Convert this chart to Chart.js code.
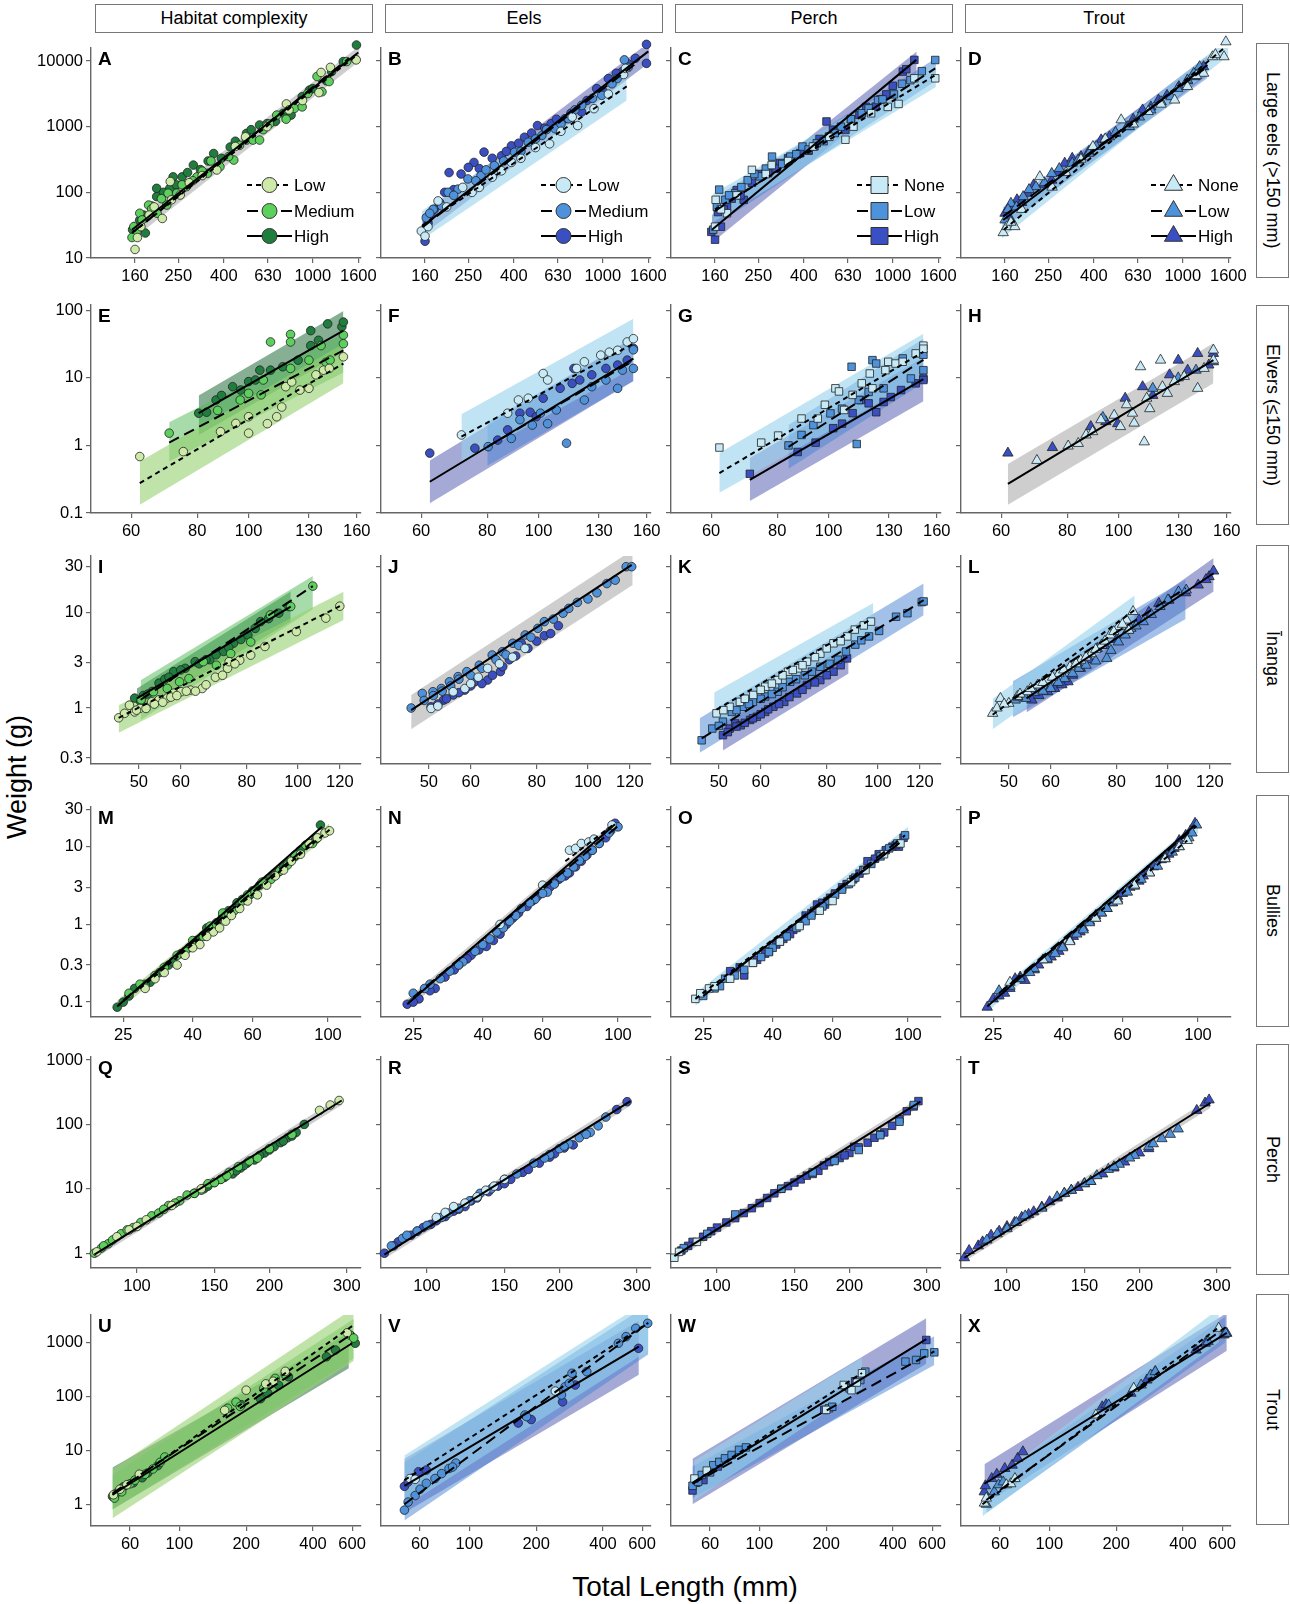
<!DOCTYPE html>
<html>
<head>
<meta charset="utf-8">
<script src="https://cdn.jsdelivr.net/npm/chart.js@4.4.1/dist/chart.umd.min.js"></script>
<style>
  body { margin: 0; background: #fff; width: 1290px; height: 1604px; position: relative; overflow: hidden;
         font-family: "Liberation Sans", Arial, sans-serif; color: #000; }
  .hdr { position: absolute; top: 4px; height: 29px; width: 278px; border: 1px solid #777; box-sizing: border-box;
         font-size: 18px; text-align: center; line-height: 27px; }
  .strip { position: absolute; left: 1256px; width: 33px; border: 1px solid #777; box-sizing: border-box;
           writing-mode: vertical-rl; text-align: center; font-size: 18px; line-height: 31px; }
  canvas { position: absolute; }
  #ylab { position: absolute; left: 0; top: 677px; width: 34px; height: 200px; writing-mode: vertical-rl;
          transform: rotate(180deg); text-align: center; font-size: 27px; line-height: 34px; }
  #xlab { position: absolute; left: 485px; top: 1570px; width: 400px; text-align: center; font-size: 28px; line-height: 34px; }
</style>
</head>
<body>
<div id="ylab">Weight (g)</div>
<div id="xlab">Total Length (mm)</div>
<script>
// ---- labels ----
const colTitles = ["Habitat complexity", "Eels", "Perch", "Trout"];
const rowTitles = ["Large eels (>150 mm)", "Elvers (\u2264150 mm)", "\u012Ananga", "Bullies", "Perch", "Trout"];
const groupNames = [["Low", "Medium", "High"], ["Low", "Medium", "High"], ["None", "Low", "High"], ["None", "Low", "High"]];

// ---- axes per row ----
const xTicks = [[160, 250, 400, 630, 1000, 1600], [60, 80, 100, 130, 160], [50, 60, 80, 100, 120], [25, 40, 60, 100], [100, 150, 200, 300], [60, 100, 200, 400, 600]];
const yTicks = [[10, 100, 1000, 10000], [0.1, 1, 10, 100], [0.3, 1, 3, 10, 30], [0.1, 0.3, 1, 3, 10, 30], [1, 10, 100, 1000], [1, 10, 100, 1000]];
const xRange = [[101.6, 1645], [50.4, 163], [40.6, 131.6], [20.1, 125], [78.6, 323], [40, 658]];
const yRange = [[10, 15770], [0.1, 119.8], [0.26, 38.8], [0.0643, 32.4], [0.589, 1113], [0.396, 3206]];

// ---- points: [low/none, medium/low, high], each [length mm, weight g] ----
const ptsA = [
  [[160,13.5],[164,20.5],[212,40],[230,146],[233,77],[255,91],[372,219],[624,1000],[762,2220],[783,1800],[1066,3300],[1090,6700],[1566,10400],
   [170,30],[185,45],[195,60],[280,140],[320,180],[450,500],[500,700],[900,2500],[1200,8000]],
  [[155,20.5],[163,26],[168,48],[184,64],[201,48],[222,64],[225,97],[246,97],[272,122],[303,172],[338,195],[384,245],[443,310],[505,625],[540,625],[578,625],[690,1500],[828,1900],[897,2000],[1045,5800],[1184,4860],[1420,9800],[1555,10600],
   [158,30],[172,38],[190,56],[210,80],[260,130],[290,150],[320,210],[350,300],[420,350],[470,520],[600,900],[640,1100],[760,1300],[950,3200],[1100,3400]],
  [[156,27],[168,38],[178,24],[200,115],[200,86],[229,115],[237,172],[260,172],[292,260],[314,222],[360,390],[427,490],[505,790],[578,1060],[624,1110],[738,1600],[897,2860],[967,3600],[1216,6900],[1370,9800],[1570,17500],
   [162,22],[175,45],[190,62],[215,100],[245,130],[275,200],[340,300],[390,330],[450,600],[530,900],[680,1200],[800,1500],[1000,3800],[1150,5000]]
];
const ptsB = [
  [[154,25.7],[160,21.5],[183,74],[236,119],[280,119],[352,213],[390,286],[578,548],[730,1400],[772,1040],[914,1880],[1060,3130],[1240,6230],[1265,7720],
   [165,30],[200,60],[260,100],[320,170],[430,330],[500,480],[650,850]],
  [[162,41],[174,55],[186,70],[203,100],[225,112],[249,160],[285,180],[327,255],[403,408],[464,580],[534,735],[612,930],[703,1320],[805,2110],[990,3000],[1160,5400],[1250,10400],
   [168,48],[190,62],[215,90],[270,150],[300,220],[360,300],[430,420],[500,650],[560,900],[650,1100],[750,1800],[900,2700],[1100,4500],[1300,8000]],
  [[160,18],[165,34],[176,55],[196,100],[205,200],[232,190],[265,285],[294,410],[352,360],[390,510],[446,690],[510,1040],[587,1110],[677,1320],[805,1670],[940,3800],[1060,5400],[1220,6860],[1400,11000],[1570,17900],[1570,9200],
   [170,45],[185,70],[215,110],[250,240],[280,230],[320,330],[370,420],[420,560],[480,800],[550,950],[620,1300],[720,1600],[850,2500],[1000,3500],[1150,6500],[1300,9000]]
];
const ptsC = [
  [[160,30],[161,77],[181,48],[234,220],[287,260],[439,498],[614,632],[667,1000],[1062,2220],[1250,5450],[1550,5450],
   [170,55],[200,90],[270,190],[340,300],[520,700],[800,1600],[950,2000]],
  [[157,27],[167,110],[178,77],[197,97],[224,153],[254,175],[288,350],[348,350],[394,498],[457,560],[518,704],[586,1000],[727,1600],[859,2540],[1013,3100],[1200,5100],[1550,10350],
   [163,60],[185,90],[210,120],[240,190],[270,230],[320,270],[370,380],[420,450],[490,600],[550,800],[650,1300],[780,1900],[900,2600],[1100,4500],[1350,7000]],
  [[154,25],[160,19],[170,30],[181,60],[200,108],[215,77],[234,140],[276,195],[313,280],[385,395],[446,500],[505,1200],[614,890],[709,1510],[838,2020],[936,3100],[1110,6890],[1250,10400],
   [165,50],[175,55],[190,80],[208,90],[250,190],[300,230],[340,330],[420,430],[470,650],[540,900],[650,1300],[760,2000],[880,2600],[1000,4200],[1150,7500]]
];
const ptsD = [
  [[157,24.3],[163,30],[177,30],[229,173],[396,499],[530,1270],[920,2540],[1050,4080],[1240,6500],[1360,11600],[1530,11600],[1560,19600],
   [170,35],[190,55],[260,120],[300,200],[350,320],[450,650],[600,1100],[700,1700],[800,2200],[1150,6000],[1400,12500]],
  [[160,38],[170,68],[193,86],[220,122],[259,194],[320,278],[380,392],[450,630],[577,1000],[719,1800],[886,2860],[1050,5140],[1190,8200],
   [165,55],[180,60],[205,110],[240,140],[280,230],[340,310],[410,500],[500,820],[640,1400],[800,2400],[950,3800],[1120,6500]],
  [[160,48],[170,38],[181,77],[202,97],[259,153],[296,278],[350,350],[431,630],[500,790],[564,1000],[661,1800],[779,2540],[961,4070],[1134,5770],[1240,8200],
   [165,42],[175,60],[190,70],[215,130],[240,130],[275,200],[320,330],[380,420],[470,700],[600,1300],[720,2000],[850,3000],[1050,5000],[1180,7200]]
];
const ptsE = [
  [[62.3,0.685],[75.3,0.81],[88.5,1.6],[94.6,2.12],[100,1.52],[100,2.66],[108.5,2.1],[113,2.66],[115.5,3.7],[117.5,7.4],[120.6,8.7],[125,6.6],[130,7],[134,11.1],[138.5,13],[142,13.8],[151,20.5]],
  [[70.8,1.52],[87.4,3.3],[96.4,4.7],[100,5.9],[105.6,5.6],[106.6,9.3],[110,34],[120,44],[120,34],[120,13.8],[130,18.3],[137,30],[140,17],[142.5,18.3],[151,43],[151,32]],
  [[80.5,3.0],[83.3,3.1],[86.8,4.7],[88.9,5.5],[93.3,7.4],[96.6,6.6],[100,8.8],[103,9.3],[105,13],[110,13],[116,14.6],[124,18.3],[131,30],[131,50],[135.5,36],[141,63],[150,57],[151,67]]
];
const ptsF = [
  [[71.5,1.43],[87.4,3.0],[91.6,4.7],[95.6,5],[102,11.6],[104,9.3],[118,13.8],[122,17.3],[131,21.7],[136,24],[141,25.6],[147,34],[151,38]],
  [[80.3,0.96],[88.8,1.27],[92.2,2.4],[97.3,2],[100.8,3],[104,2.1],[108,3.35],[112.9,1.08],[122,4.7],[126,7.4],[134,9.3],[141,7],[144,13],[151,13.8],[151,26]],
  [[62.3,0.77],[75.8,0.91],[83.7,1.2],[87.4,1.7],[92.2,3.0],[96.4,3.1],[99,2.66],[102,5],[109.8,7],[115.7,8.3],[116.6,13.8],[119.6,9.3],[126,11.1],[134,13.8],[141,15.5],[147,18.3],[151,27.4]]
];
const ptsG = [
  [[62.2,0.93],[74.6,1.1],[80.3,1.4],[88.9,2.5],[95.4,2.5],[98.4,4],[103,7],[104.6,6.3],[107,3.35],[111,5.6],[115.5,8.3],[119.6,11.6],[121,7],[128,13],[129.6,17.3],[133.8,16.3],[138,17.3],[146,23],[151,30],[151,27]],
  [[84,1.0],[88.9,1.43],[93.6,2],[100.8,2.98],[106,3.5],[110.5,14.6],[114,4.7],[113,1.05],[119,6.2],[121,18.3],[123,16.3],[127,7],[138,19.4],[143,9.8],[151,13],[151,22]],
  [[71,0.38],[87.4,0.8],[94.5,1.1],[102,1.8],[106,2.1],[111,3],[115,4.7],[119,4.2],[123,3.1],[127,4.4],[131,5.2],[137,6.6],[146,8.3],[151,9.8],[151,9.3]]
];
const ptsH = [
  [[70.1,0.6],[80.3,0.98],[83.9,1.07],[86.8,1.43],[89.3,1.6],[92.6,2.4],[98.1,2.8],[100.8,1.9],[103.5,4],[106.2,3.0],[107,2.14],[110,14.6],[111.8,1.13],[113,5],[114.5,3.5],[120,18.3],[121,7.4],[123.6,5.9],[127.4,8.8],[133,10.5],[141,7],[145,13.8],[151,18.3],[151,25.8]],
  [[93.4,2.6],[116,7],[129.6,10],[140,13]],
  [[61.8,0.77],[75,0.93],[88.6,1.9],[94.6,2.25],[99.6,2.1],[102.9,5],[111,7.4],[116,5.5],[124.8,11.1],[129.6,18.3],[135,13],[141,23],[148,15.5],[151,17.3],[151,23]]
];
const ptsI = [
  [[45.8,0.79],[48,1.07],[49.1,0.91],[50.2,0.99],[51.6,0.99],[52.9,1.16],[54.6,1.22],[56.6,1.27],[58.2,1.43],[60.1,1.48],[62.6,1.54],[65.9,1.6],[69.8,2.1],[73.6,2.6],[74.1,3.05],[77.6,3.16],[81.4,3.57],[86.6,4.4],[99.3,6.3],[112.9,8.7],[120,11.6],
   [47,0.88],[49.5,0.95],[53.5,1.1],[55.5,1.15],[57.5,1.3],[59,1.35],[61.5,1.5],[64,1.5],[67,1.75],[72,2.2],[76,2.9]],
  [[50.5,1.22],[53.3,1.48],[56.6,1.6],[59.7,1.88],[62.2,2.03],[66.2,3.05],[70.1,2.8],[74.6,3.7],[81.4,4.9],[88.7,9.4],[96.9,11.5],[106.7,18.8]],
  [[49.1,1.27],[50.4,1.17],[53,1.49],[54.6,1.82],[58.2,2.4],[61.2,2.6],[63.9,3.05],[68.1,3.2],[72.3,3.9],[75.5,4.75],[80.4,5.8],[85,8.0],[96.1,11.5],
   [51,1.35],[52,1.4],[56,2.0],[57,2.1],[60,2.5],[65,2.9],[67,3.2],[70,3.6],[74,4.3],[78,5.2],[83,6.8],[88,8.6],[92,9.8]]
];
const ptsJ = [
  [[50.5,0.99],[55.6,1.48],[58.5,1.6],[64.6,2.6],[72,3.4],[52,1.05],[60,1.8],[62,2.1],[68,2.9],[76,4.2]],
  [[46.3,1.0],[48.6,1.42],[50.9,1.48],[52.8,1.6],[54.7,1.88],[56.8,2.13],[59,2.4],[62.3,2.8],[65.9,3.58],[68.9,3.88],[72.1,4.75],[76.1,5.8],[80.4,6.8],[82.7,8],[89.7,9.8],[95.5,12.7],[100,13.8],[108.6,20],[112.6,21.7],[118.1,30],[121,30],
   [49,1.2],[51,1.35],[53,1.5],[55,1.7],[57,2],[60,2.2],[63,2.6],[67,3.2],[70,3.6],[74,4.5],[78,5.5],[86,8.5],[92,11],[104,16]],
  [[50.5,1.03],[53.3,1.21],[55.6,1.37],[58.5,1.54],[61,1.88],[64.6,1.96],[68.3,2.4],[71,3.2],[74.8,4.75],[82.7,5.7],[87.9,7.25],
   [52,1.1],[54,1.25],[57,1.45],[60,1.7],[63,1.8],[66,2.2],[69,2.7],[73,3.5],[77,4.2],[80,5.0],[85,6.0]]
];
const ptsK = [
  [[49.5,0.88],[52.4,1.03],[54.8,1.16],[58.1,1.37],[61.2,1.67],[64.6,1.96],[67.6,2.4],[70.6,2.6],[73.4,3.05],[77.8,3.7],[82.4,4.75],[87.5,5.6],[90.4,6.6],[97,8],
   [51,0.95],[56,1.25],[60,1.55],[63,1.8],[66,2.2],[69,2.5],[72,2.8],[76,3.4],[80,4.2],[85,5],[94,7.3]],
  [[46.4,0.46],[48.6,0.61],[50.9,0.72],[52.9,0.91],[55.5,1.03],[58,1.16],[61.2,1.32],[64.6,1.48],[68.2,1.88],[72.7,2.2],[77.8,2.7],[84,3.2],[90.6,4.6],[96.2,5.6],[100.5,6.4],[108.2,9],[113.7,9.8],[121,12.8],[122,13],
   [50,0.65],[54,0.95],[57,1.1],[60,1.25],[63,1.4],[66,1.65],[70,2.0],[75,2.4],[81,2.9],[87,3.9],[93,5.1]],
  [[50.9,0.52],[52.4,0.61],[53.7,0.69],[55,0.66],[57.3,0.75],[59,0.81],[61.2,0.91],[63.4,1.03],[66.5,1.16],[70.3,1.42],[73.4,1.74],[77.8,1.96],[82.4,2.4],[87.4,3.3],
   [52,0.56],[54,0.64],[56,0.7],[58,0.78],[60,0.86],[62,0.97],[65,1.1],[68,1.3],[72,1.55],[76,1.85],[80,2.2],[85,2.8]]
];
const ptsL = [
  [[46.6,0.88],[48.2,1.26],[50,1.12],[51.9,1.32],[54.2,1.48],[56.7,1.74],[59.2,1.96],[62.2,2.3],[65.3,2.7],[68.4,3.16],[71.6,3.7],[74.9,4.55],[77.7,5.8],[80.6,7.1],[83.5,8.3],[85.9,10.2],[84.3,6.5],
   [47.5,1.0],[49,1.1],[52.5,1.4],[55,1.6],[58,1.85],[60.5,2.1],[63.5,2.5],[67,2.9],[70,3.4],[73,4.1],[76,5],[79,6.3],[82,7.5]],
  [[51.4,1.21],[53.8,1.26],[60,1.6],[63.7,2.03],[67.8,2.6],[76.6,3.3],[80.6,4.9],[85.1,6.8],[89.8,7.98],[96.6,11.5],[104.7,16.4],[108.3,17.1],
   [52,1.3],[56,1.45],[58,1.5],[62,1.85],[66,2.3],[70,2.8],[73,3.1],[78,4],[83,5.8],[87,7.2],[93,9.5],[100,13.5]],
  [[55.3,1.21],[59.2,1.48],[64.7,1.88],[68.3,2.6],[73.5,4.2],[88.2,8.3],[96.1,12.4],[100.4,13.4],[114.1,19.3],[119.6,23.6],[122,27],
   [57,1.35],[61,1.6],[63,1.75],[66,2.2],[71,3.2],[76,4.5],[80,5.2],[84,6.5],[92,10],[108,16],[118,22]]
];
const ptsM = [
  [[29,0.15],[33,0.24],[38,0.4],[42,0.55],[46,0.8],[50,1.1],[55,1.6],[62,2.4],[70,4.2],[78,6.5],[88,11],[98,15],[101,16],
   [31,0.2],[36,0.3],[40,0.5],[44,0.7],[48,0.9],[52,1.3],[58,2],[66,3.2],[74,5],[83,8],[93,13]],
  [[26,0.13],[31,0.22],[36,0.4],[40,0.62],[45,0.95],[49,1.4],[53,1.5],[58,2.4],[64,3.5],[72,4.8],[80,7.8],[86,10.5],
   [28,0.17],[33,0.28],[38,0.45],[43,0.7],[47,1.0],[51,1.3],[56,2],[61,2.6],[68,3.8],[76,5.8],[90,11]],
  [[24,0.086],[25,0.1],[27,0.15],[30,0.18],[34,0.3],[37,0.42],[41,0.62],[44,0.9],[47,1.05],[51,1.5],[54,1.9],[57,2.1],[60,2.7],[66,3.6],[71,4.6],[76,6.2],[83,9],[92,12.5],[95,19],
   [26,0.12],[29,0.17],[32,0.24],[35,0.33],[39,0.5],[43,0.72],[46,0.95],[49,1.25],[53,1.6],[56,2.1],[59,2.4],[63,3.2],[69,4.2],[74,5.5],[80,7.5],[88,11]]
];
const ptsN = [
  [[45,1.0],[60,3.2],[72,9],[75,9.5],[78,11],[82,11.5],[85,12.5],[96,19]],
  [[25,0.13],[28,0.17],[32,0.25],[35,0.33],[40,0.55],[44,0.8],[48,1.1],[52,1.6],[57,2.1],[62,2.6],[68,4],[74,5.5],[80,7.5],[88,11],[100,18],
   [27,0.15],[30,0.2],[34,0.3],[38,0.45],[42,0.65],[46,0.9],[50,1.3],[55,1.9],[60,2.5],[65,3.3],[71,4.6],[77,6.6],[84,9],[94,15]],
  [[24,0.094],[26,0.11],[29,0.15],[31,0.21],[34,0.3],[37,0.4],[41,0.52],[45,0.75],[49,1.2],[54,1.7],[58,2.3],[63,3],[67,3.8],[72,4.6],[78,6.5],[84,9],[92,13],[98,20],
   [25,0.1],[28,0.14],[33,0.26],[36,0.36],[39,0.47],[43,0.62],[47,1.0],[51,1.4],[56,2],[61,2.7],[65,3.4],[70,4.2],[75,5.5],[81,7.8],[88,11],[95,16]]
];
const ptsO = [
  [[23.7,0.11],[24.5,0.13],[26,0.15],[27,0.16],[30,0.2],[35,0.32],[42,0.6],[48,0.95],[55,1.5],[60,2],[68,3.5],[75,5],[85,8],[95,11]],
  [[25,0.12],[28,0.16],[31,0.22],[33,0.26],[37,0.38],[40,0.5],[44,0.7],[50,1.1],[53,1.5],[58,2],[64,2.8],[70,4],[78,6],[88,9.5],[98,14],
   [27,0.15],[29,0.2],[35,0.32],[39,0.44],[42,0.6],[47,0.9],[52,1.3],[56,1.7],[61,2.4],[67,3.3],[74,5],[83,7.5],[93,11]],
  [[30,0.25],[33,0.22],[36,0.35],[39,0.45],[43,0.65],[46,0.85],[50,1.3],[54,1.8],[57,1.8],[61,2.5],[66,3.3],[72,4.5],[76,6.5],[82,8],[90,10],[94,10],
   [32,0.28],[38,0.42],[41,0.55],[45,0.75],[48,1.0],[52,1.4],[56,1.9],[59,2.2],[64,3],[69,3.8],[74,5],[80,7],[86,9],[92,10.5],[97,13]]
];
const ptsP = [
  [[28,0.18],[35,0.35],[42,0.6],[50,1.2],[58,2],[65,3.2],[72,4.6],[80,7],[88,10],[93,12]],
  [[26,0.14],[30,0.2],[33,0.27],[38,0.42],[44,0.75],[48,1.05],[52,1.4],[56,1.9],[62,2.6],[68,3.8],[76,5.6],[84,8.5],[94,13],[99,19],
   [28,0.16],[32,0.24],[36,0.36],[40,0.5],[46,0.85],[50,1.2],[54,1.6],[58,2.1],[65,3.1],[72,4.6],[80,7],[88,10],[96,15]],
  [[24,0.086],[25,0.11],[27,0.13],[29,0.2],[31,0.19],[34,0.3],[37,0.38],[40,0.52],[43,0.7],[46,0.9],[50,1.3],[54,1.6],[58,2.3],[63,3],[67,3.6],[71,4.8],[78,6.8],[82,8],[88,12],[95,16],[98,20],
   [26,0.12],[28,0.15],[30,0.21],[33,0.26],[36,0.35],[39,0.45],[42,0.62],[45,0.8],[48,1.1],[52,1.4],[56,1.9],[60,2.5],[65,3.2],[69,4.2],[74,5.5],[80,7.5],[85,9.5],[92,14]]
];
const ptsQ = [
  [[81,1.05],[90,1.8],[96,2.3],[100,2.6],[105,3.3],[120,5.5],[140,10],[260,165],[275,200],[288,235]],
  [[80,1.0],[83,1.2],[86,1.4],[92,2],[102,3],[108,3.8],[112,4.2],[118,5.5],[125,6.5],[130,8],[140,9.5],[145,12],[155,14],[162,18],[170,22],[180,27],[188,30],[200,42],[225,70],
   [84,1.3],[88,1.6],[95,2.3],[98,2.5],[115,4.8],[122,6],[135,8.5],[150,12.5],[160,16]],
  [[135,8.5],[142,10],[150,12.5],[158,15],[165,17],[172,21],[178,25],[185,28],[195,36],[205,45],[212,52],[220,62],[230,75],[240,100],
   [145,11],[155,14],[168,19],[175,23],[190,33],[200,40],[215,55],[225,66]]
];
const ptsR = [
  [[105,3.6],[110,4.3],[115,5.3],[122,6],[130,7.5],[136,9.5],[142,11],[150,14]],
  [[83,1.3],[88,1.7],[95,2.2],[108,3.6],[118,5],[132,8.5],[150,14],[175,25],[190,34],[200,42],[210,50],[222,62],[235,75],[255,130],
   [90,1.9],[100,2.7],[112,4.2],[125,6.5],[140,10],[160,17],[185,30],[205,46],[230,70],[245,95]],
  [[80,1.0],[86,1.5],[92,1.9],[98,2.5],[102,2.8],[110,3.7],[115,4.5],[122,5.3],[126,6.5],[138,9],[145,11],[155,14],[165,18],[180,25],[195,35],[215,48],[270,170],[285,225],
   [84,1.3],[95,2.2],[105,3.2],[118,4.8],[130,7.2],[150,12],[170,20],[190,31],[205,43]]
];
const ptsS = [
  [[80,0.85],[82,1.05],[90,1.5]],
  [[84,1.2],[95,2],[110,4],[140,10],[165,18],[185,27],[210,40],[235,68],[260,110],[280,200]],
  [[83,1.1],[88,1.5],[93,1.8],[100,2.5],[105,3],[115,4.2],[120,5],[125,6],[130,7.2],[135,8.5],[145,11],[150,12.5],[155,14],[160,16],[170,19],[175,23],[180,26],[190,30],[200,36],[205,45],[220,52],[228,62],[240,75],[250,95],[270,160],[287,230],
   [86,1.3],[97,2.2],[110,3.5],[140,10],[165,17],[185,28],[195,33],[210,44],[235,70],[260,120],[280,190]]
];
const ptsT = [
  [],
  [[90,1.6],[100,2.4],[110,3.8],[130,7.5],[140,9.5],[150,12],[160,16],[170,20],[180,24],[195,33],[210,45],[225,60],[245,85],
   [95,2],[105,3],[120,5],[135,8.5],[155,13],[175,22],[190,30],[215,50],[235,70]],
  [[80,0.85],[82,1.1],[86,1.3],[92,1.9],[96,2.2],[104,3],[108,3.6],[115,4.4],[120,5.2],[125,6.3],[135,8.5],[145,10.5],[155,13],[165,17],[185,26],[200,36],[270,165],[282,215],[288,240],
   [88,1.5],[100,2.6],[112,4],[130,7.2],[140,9.5],[150,12],[175,21],[210,42]]
];
const ptsU = [
  [[50.5,1.5],[54,1.9],[58,2.3],[66,3.6],[160,55],[200,130],[245,170],[265,190],[300,290],[570,1500]],
  [[51,1.3],[55,1.7],[60,2.4],[63,2.8],[70,3.6],[76,4.5],[82,6],[86,7.5],[165,60],[180,78],[188,65],[240,140],[270,215],[300,250],[590,1350],[610,1200]],
  [[50,1.4],[52,1.6],[56,2.1],[62,2.5],[68,3.1],[72,3.8],[80,5.2],[190,70],[232,90],[250,115],[280,160],[310,230],[460,540],[505,720],[620,960]]
];
const ptsV = [
  [[54,3.0],[57,2.9],[244,125]],
  [[51,0.78],[53,1.1],[57,1.45],[60,1.9],[64,2.45],[70,3.0],[75,3.7],[81,4.6],[87,5.8],[84,4.9],[178,45],[181,42],[260,106],[270,150],[282,174],[290,267],[338,286],[469,958],[508,1274],[562,1816],[636,2250]],
  [[51,2.15],[53,2.6],[56,3.1],[59,4.0],[64,4.3],[166,32],[190,37],[263,79],[300,162],[578,774]]
];
const ptsW = [
  [[51,3.0],[58,4.2],[200,56],[240,162],[260,130],[275,180],[290,267]],
  [[50,2.2],[53,2.6],[55,3.5],[60,3.9],[62,5.3],[66,6.1],[70,7.1],[75,8.2],[81,10.2],[87,11.3],[206,60],[213,64],[255,140],[285,200],[300,286],[455,439],[508,471],[553,625],[614,652]],
  [[50,1.8],[52,2.5],[56,2.8],[65,5],[196,56],[245,150],[270,190],[565,1105]]
];
const ptsX = [
  [[51,1.05],[52,1.3],[64,2.3],[67,2.4],[70,3.0],[162,45],[240,141],[579,1820]],
  [[52,1.0],[56.5,1.7],[59,2.3],[62,2.6],[185,69],[259,162],[286,248],[300,286],[519,1030],[622,1470]],
  [[50.9,1.7],[51.5,2.2],[55,3.0],[58,3.6],[63,4.6],[68,5.3],[72,7.1],[76,9.4],[173,64],[180,70],[233,114],[275,200],[300,286],[458,720],[504,958],[612,1370],[630,1470]]
];

// ---- fitted lines per group: [x0, y0, x1, y1] ----
const fitA = [[155,24,1560,12000],[157,25,1450,11000],[155,27,1600,13500]];
const fitB = [[155,31,1280,4100],[157,30,1400,9000],[155,30,1600,14000]];
const fitC = [[160,55,1550,6100],[160,52,1550,7700],[155,27,1275,10400]];
const fitD = [[158,27,1560,16500],[157,43,1290,8200],[157,38,1290,8700]];
const fitE = [[62.3,0.277,151,16.3],[70.8,1.1,151,25.6],[80.5,3.0,151,50]];
const fitF = [[71.5,1.35,151,32],[80,0.95,151,18],[62.3,0.29,151,19.3]];
const fitG = [[62.2,0.39,151,24.3],[84,0.95,151,18.5],[71,0.31,151,9.6]];
const fitH = [null, null, [61.8,0.27,151,18.3]];
const fitI = [[45.8,0.79,120,11.6],[50.4,1.22,106.7,18.8],[49.6,1.26,96.9,11.5]];
const fitJ = [null, null, [46.3,0.95,121,31.3]];
const fitK = [[49.5,0.96,96.5,8.3],[46.4,0.48,122,13.4],[50.9,0.52,87.5,3.44]];
const fitL = [[46.6,0.85,86.5,10.6],[50.9,1.26,108,17.9],[54,1.26,122,25.6]];
const fitM = [[28,0.15,101,16.5],[25,0.105,92,12.5],[24,0.088,96,18]];
const fitN = [[70,6.5,98,20],[25,0.115,100,18.5],[24,0.094,98,19.5]];
const fitO = [[23.7,0.11,95,11.5],[25,0.12,98,14],[30,0.23,94,11]];
const fitP = [[28,0.17,93,12],[26,0.13,99,18.5],[24,0.088,98,19]];
const fitQ = [null, null, [80,0.95,292,235]];
const fitR = [null, null, [80,0.95,290,230]];
const fitS = [null, null, [80,0.9,290,225]];
const fitT = [null, null, [80,0.85,290,215]];
const fitU = [[50,1.5,610,2100],[50,1.6,610,1500],[50,1.5,600,960]];
const fitV = [[51,2.8,640,2300],[51,1.0,640,2300],[51,2.2,580,830]];
const fitW = [[51,2.6,290,270],[50,2.4,614,680],[50,2.5,565,1150]];
const fitX = [[50,1.0,580,1900],[52,1.2,622,1900],[51,2.4,630,1500]];

// ---- prediction bands: [group (-1 = pooled), x0, lo0, hi0, x1, lo1, hi1] ----
const bandA = [[-1,155,19,35,1620,10000,17000]];
const bandB = [[0,155,19,52,1280,2500,6800],[2,155,22,46,1620,9500,19500]];
const bandC = [[0,157,35,95,1560,4000,9000],[1,157,30,80,1560,5000,11000],[2,155,17,45,1280,6000,14000]];
const bandD = [[0,155,20,40,1600,12000,22000],[1,157,30,60,1290,5500,11000],[2,157,28,52,1290,6000,12000]];
const bandE = [[0,62.3,0.132,0.58,151,8.3,32],[1,70.8,0.58,2.2,151,12,45],[2,80.5,1.43,5.5,151,24,98]];
const bandF = [[0,71.5,0.55,2.9,151,14,75],[1,80,0.5,2.2,151,9,38],[2,62.3,0.14,0.6,151,9,40]];
const bandG = [[0,62.2,0.2,0.77,151,10,45],[1,84,0.45,2.0,151,8.5,38],[2,71,0.15,0.65,151,4.5,20]];
const bandH = [[-1,61.8,0.133,0.53,151,8.3,32.4]];
const bandI = [[0,45.8,0.55,1.07,122,8.3,16.4],[1,50.4,0.75,1.95,106.7,10.8,24],[2,49.6,0.9,1.6,96.9,8,16.5]];
const bandJ = [[-1,46.3,0.6,1.37,121.5,19.3,44.9]];
const bandK = [[0,49,0.62,1.45,98,5.5,12.5],[1,46,0.34,0.78,122,9.3,20],[2,50.9,0.36,0.72,88,2.3,4.6]];
const bandL = [[0,46.6,0.6,1.25,86.5,6.8,15],[1,50.9,0.8,1.9,108,8.5,22],[2,54,0.9,1.5,122,16.5,37]];
const bandM = [[0,24,0.075,0.105,101,14.5,20]];
const bandN = [[-1,24,0.08,0.11,100,16,23]];
const bandO = [[0,23.7,0.09,0.13,100,12.5,18]];
const bandP = [[0,24,0.075,0.105,100,15,22]];
const bandQ = [[-1,80,0.82,1.1,292,200,275]];
const bandR = [[-1,80,0.82,1.1,290,195,270]];
const bandS = [[-1,80,0.78,1.05,290,190,265]];
const bandT = [[-1,80,0.74,1.0,290,180,255]];
const bandU = [[0,50,0.55,4.5,610,450,4300],[1,50,0.8,3.5,610,500,2700],[2,50,0.8,4.8,580,330,1500]];
const bandV = [[0,51,0.9,8,640,700,6000],[1,51,0.5,6,640,600,5000],[2,51,0.7,7,580,250,2500]];
const bandW = [[0,51,1.2,6.5,290,140,520],[1,50,1.3,5,614,380,1300],[2,50,1.0,7,565,400,2800]];
const bandX = [[0,50,0.6,2.0,580,1000,4200],[1,52,0.7,2.4,622,1000,3000],[2,51,1.0,5.5,630,700,3500]];

const allPts = [ptsA,ptsB,ptsC,ptsD,ptsE,ptsF,ptsG,ptsH,ptsI,ptsJ,ptsK,ptsL,ptsM,ptsN,ptsO,ptsP,ptsQ,ptsR,ptsS,ptsT,ptsU,ptsV,ptsW,ptsX];
const allFits = [fitA,fitB,fitC,fitD,fitE,fitF,fitG,fitH,fitI,fitJ,fitK,fitL,fitM,fitN,fitO,fitP,fitQ,fitR,fitS,fitT,fitU,fitV,fitW,fitX];
const allBands = [bandA,bandB,bandC,bandD,bandE,bandF,bandG,bandH,bandI,bandJ,bandK,bandL,bandM,bandN,bandO,bandP,bandQ,bandR,bandS,bandT,bandU,bandV,bandW,bandX];
const letters = "ABCDEFGHIJKLMNOPQRSTUVWX";

// ---- layout & style ----
const PLOT_LEFT = 91, COL_STEP = 290, PLOT_W = 270;
const ROW_TOP = [48, 305, 556, 807, 1057, 1315];
const ROW_BOTTOM = [258, 513, 764, 1017, 1268, 1526];
const STRIP_TOP = [43, 305, 545, 795, 1044, 1294];
const STRIP_BOTTOM = [278, 525, 773, 1027, 1275, 1525];
const PAD_L = 62, PAD_R = 26, PAD_T = 14, PAD_B = 34;
const FONT = '"Liberation Sans", Arial, sans-serif';

const GREEN = ["#cdeaa8", "#5ccf5c", "#1f7d3e"];
const BLUE = ["#c8eaf6", "#4e92dc", "#3a50c2"];
const GREEN_BAND = ["rgba(150,208,112,0.6)", "rgba(80,185,85,0.5)", "rgba(35,110,60,0.55)"];
const BLUE_BAND = ["rgba(150,210,235,0.6)", "rgba(70,130,210,0.5)", "rgba(55,65,165,0.45)"];
const GRAY_BAND = "rgba(165,165,165,0.55)";
const DASH = [[5, 4], [11, 6], []];
const SHAPE = ["circle", "circle", "rect", "triangle"];
const RAD = [4.3, 4.3, 5.3, 6];
const LEG_R = [7.5, 7.5, 12, 10.5];
const LEG_X = [156, 160, 186, 190];
const LEG_Y = [137, 163, 188];

Chart.defaults.font.family = FONT;

colTitles.forEach((t, c) => {
  const d = document.createElement("div");
  d.className = "hdr"; d.textContent = t;
  d.style.left = (95 + COL_STEP * c) + "px";
  document.body.appendChild(d);
});
rowTitles.forEach((t, r) => {
  const d = document.createElement("div");
  d.className = "strip"; d.textContent = t;
  d.style.top = STRIP_TOP[r] + "px";
  d.style.height = (STRIP_BOTTOM[r] - STRIP_TOP[r]) + "px";
  document.body.appendChild(d);
});

function makePanel(r, c) {
  const i = r * 4 + c;
  const left = PLOT_LEFT + COL_STEP * c, top = ROW_TOP[r], h = ROW_BOTTOM[r] - ROW_TOP[r];
  const W = PAD_L + PLOT_W + PAD_R, H = PAD_T + h + PAD_B;
  const cv = document.createElement("canvas");
  cv.width = W; cv.height = H;
  cv.style.width = W + "px"; cv.style.height = H + "px";
  cv.style.left = (left - PAD_L) + "px"; cv.style.top = (top - PAD_T) + "px";
  document.body.appendChild(cv);

  const pal = c === 0 ? GREEN : BLUE;
  const bandPal = c === 0 ? GREEN_BAND : BLUE_BAND;
  const datasets = [];

  allFits[i].forEach((f, g) => {
    if (!f) return;
    datasets.push({ type: "line", data: [{ x: f[0], y: f[1] }, { x: f[2], y: f[3] }],
      borderColor: "#000", borderWidth: 2, borderDash: DASH[g], pointRadius: 0, fill: false, order: 1, clip: false });
  });
  allPts[i].forEach((p, g) => {
    datasets.push({ type: "scatter", data: p.map(([x, y]) => ({ x, y })),
      pointStyle: SHAPE[c], pointRadius: RAD[c], backgroundColor: pal[g], borderColor: "#222",
      borderWidth: 0.8, order: 2, clip: false });
  });
  allBands[i].forEach(b => {
    const col = b[0] < 0 ? GRAY_BAND : bandPal[b[0]];
    datasets.push({ type: "line", data: [{ x: b[1], y: b[3] }, { x: b[4], y: b[6] }],
      fill: "+1", backgroundColor: col, borderWidth: 0, borderColor: "rgba(0,0,0,0)", pointRadius: 0, order: 3, clip: false });
    datasets.push({ type: "line", data: [{ x: b[1], y: b[2] }, { x: b[4], y: b[5] }],
      fill: false, borderWidth: 0, borderColor: "rgba(0,0,0,0)", pointRadius: 0, order: 3, clip: false });
  });

  const xt = xTicks[r], yt = yTicks[r];
  const axisCommon = {
    type: "logarithmic",
    grid: { drawOnChartArea: false, drawTicks: true, tickLength: 5, color: "#666", lineWidth: 1.2 },
    border: { display: true, color: "#666", width: 1.4 }
  };

  new Chart(cv, {
    type: "scatter",
    data: { datasets },
    options: {
      responsive: false, animation: false, events: [],
      layout: { padding: { left: 0, top: PAD_T, right: PAD_R, bottom: 0 } },
      plugins: { legend: { display: false }, tooltip: { enabled: false } },
      scales: {
        x: Object.assign({}, axisCommon, {
          min: xRange[r][0], max: xRange[r][1],
          afterBuildTicks: s => { s.ticks = xt.map(v => ({ value: v })); },
          afterFit: s => { s.height = PAD_B; },
          ticks: { autoSkip: false, maxRotation: 0, minRotation: 0, color: "#000", padding: 4,
                   font: { size: 16.5 }, callback: v => xt.includes(v) ? String(v) : "" }
        }),
        y: Object.assign({}, axisCommon, {
          min: yRange[r][0], max: yRange[r][1],
          afterBuildTicks: s => { s.ticks = yt.map(v => ({ value: v })); },
          afterFit: s => { s.width = PAD_L; },
          ticks: { autoSkip: false, color: "#000", padding: 3, font: { size: 16.5 },
                   callback: v => (c === 0 && yt.includes(v)) ? String(v) : "" }
        })
      }
    },
    plugins: [{
      id: "decor",
      afterDraw(chart) {
        const ctx = chart.ctx, a = chart.chartArea;
        ctx.save();
        ctx.fillStyle = "#000";
        ctx.font = "bold 19px " + FONT;
        ctx.textBaseline = "top";
        ctx.fillText(letters[i], a.left + 7, a.top + 2);
        if (r === 0) {
          ctx.font = "17px " + FONT;
          ctx.textBaseline = "middle";
          for (let g = 0; g < 3; g++) {
            const y = a.top + LEG_Y[g], x0 = a.left + LEG_X[c];
            ctx.setLineDash(DASH[g]);
            ctx.strokeStyle = "#000"; ctx.lineWidth = 2;
            ctx.beginPath(); ctx.moveTo(x0, y); ctx.lineTo(x0 + 45, y); ctx.stroke();
            ctx.setLineDash([]);
            ctx.fillStyle = pal[g]; ctx.strokeStyle = "#333"; ctx.lineWidth = 1;
            Chart.helpers.drawPoint(ctx, { pointStyle: SHAPE[c], radius: LEG_R[c], borderWidth: 1, rotation: 0 }, x0 + 22.5, y);
            ctx.fillStyle = "#000";
            ctx.fillText(groupNames[c][g], x0 + 47, y + 1);
          }
        }
        ctx.restore();
      }
    }]
  });
}

for (let r = 0; r < 6; r++) for (let c = 0; c < 4; c++) makePanel(r, c);
</script>
</body>
</html>
